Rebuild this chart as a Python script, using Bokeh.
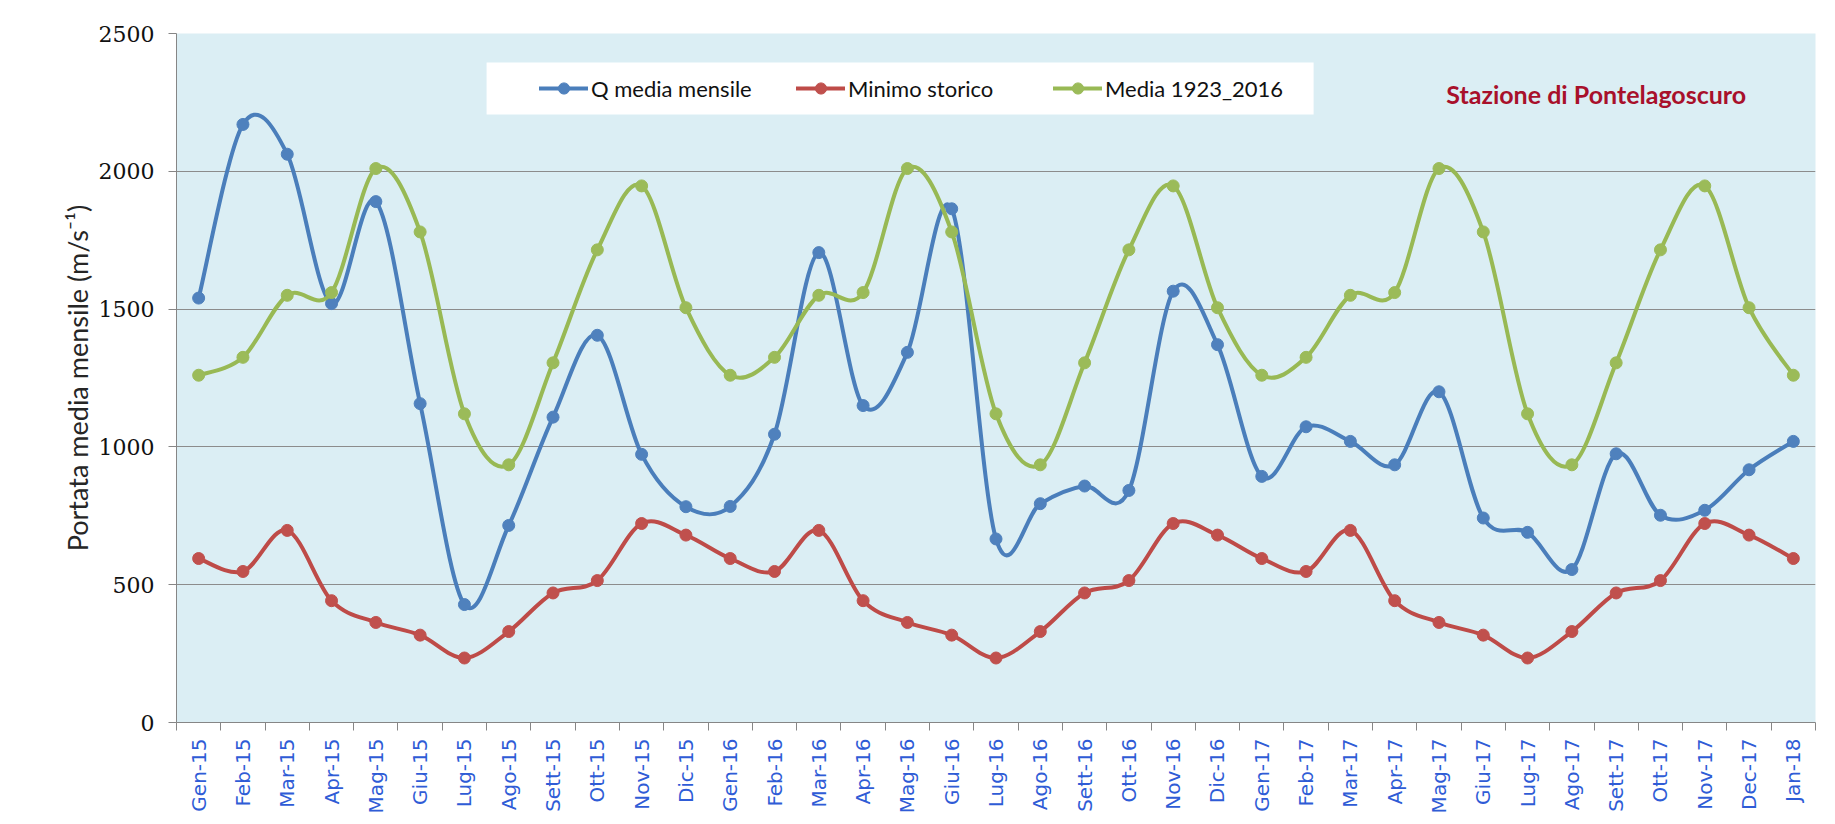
import math
import numpy as np
from bokeh.plotting import figure
from bokeh.models import Range1d, FixedTicker, Legend, LegendItem, Label, BoxAnnotation
from bokeh.embed import file_html
from bokeh.resources import INLINE

# ---------------- data ----------------
months = ["Gen-15", "Feb-15", "Mar-15", "Apr-15", "Mag-15", "Giu-15", "Lug-15", "Ago-15",
          "Sett-15", "Ott-15", "Nov-15", "Dic-15",
          "Gen-16", "Feb-16", "Mar-16", "Apr-16", "Mag-16", "Giu-16", "Lug-16", "Ago-16",
          "Sett-16", "Ott-16", "Nov-16", "Dic-16",
          "Gen-17", "Feb-17", "Mar-17", "Apr-17", "Mag-17", "Giu-17", "Lug-17", "Ago-17",
          "Sett-17", "Ott-17", "Nov-17", "Dec-17", "Jan-18"]

q_media_mensile = [1540, 2170, 2062, 1520, 1890, 1157, 428, 715, 1108, 1405, 973, 783,
                   784, 1046, 1705, 1150, 1343, 1864, 666, 794, 858, 842, 1565, 1371,
                   893, 1073, 1020, 935, 1200, 742, 690, 555, 975, 752, 770, 917, 1020]

minimo_storico = [595, 548, 697, 442, 363, 317, 234, 330, 470, 515, 722, 680,
                  595, 548, 697, 442, 363, 317, 234, 330, 470, 515, 722, 680,
                  595, 548, 697, 442, 363, 317, 234, 330, 470, 515, 722, 680, 595]

media_1923_2016 = [1260, 1325, 1550, 1560, 2010, 1780, 1120, 935, 1305, 1715, 1947, 1505,
                   1260, 1325, 1550, 1560, 2010, 1780, 1120, 935, 1305, 1715, 1947, 1505,
                   1260, 1325, 1550, 1560, 2010, 1780, 1120, 935, 1305, 1715, 1947, 1505, 1260]

y_ticks = [0, 500, 1000, 1500, 2000, 2500]

series = [
    ("Q media mensile", q_media_mensile, "#4a7ebb", "#4f81bd"),
    ("Minimo storico", minimo_storico, "#be4b48", "#c0504d"),
    ("Media 1923_2016", media_1923_2016, "#98b954", "#9bbb59"),
]

n = len(months)
xs = list(range(n))

# ---------------- figure ----------------
p = figure(width=1823, height=816, output_backend="svg", toolbar_location=None,
           x_range=Range1d(-0.5, n - 0.5), y_range=Range1d(0, 2500),
           min_border_left=176, min_border_right=8, min_border_top=33, min_border_bottom=94)
p.background_fill_color = "#dbeef4"
p.border_fill_color = "white"
p.outline_line_color = None

grey = "#868686"

# x axis
p.xaxis.ticker = FixedTicker(ticks=xs, minor_ticks=[k - 0.5 for k in range(n + 1)])
p.xaxis.major_label_overrides = {i: m for i, m in enumerate(months)}
p.xaxis.major_label_orientation = math.pi / 2
p.xaxis.major_tick_out = 0
p.xaxis.major_tick_in = 0
p.xaxis.minor_tick_out = 8
p.xaxis.minor_tick_in = 0
p.xaxis.minor_tick_line_color = grey
p.xaxis.axis_line_color = grey
p.xaxis.major_label_standoff = 8
p.xaxis.major_label_text_font = "DejaVu Sans"
p.xaxis.major_label_text_font_size = "20px"
p.xaxis.major_label_text_color = "#2f5cd6"

# y axis
p.yaxis.ticker = FixedTicker(ticks=y_ticks)
p.yaxis.major_tick_out = 8
p.yaxis.major_tick_in = 0
p.yaxis.major_tick_line_color = grey
p.yaxis.axis_line_color = grey
p.yaxis.major_label_standoff = 14
p.yaxis.major_label_text_font = "DejaVu Serif"
p.yaxis.major_label_text_font_style = "normal"
p.yaxis.major_label_text_font_size = "22px"
p.yaxis.major_label_text_color = "#111111"
p.yaxis.axis_label = "Portata media mensile (m/s\u207b\u00b9)"
p.yaxis.axis_label_text_font = "Lato"
p.yaxis.axis_label_text_font_style = "normal"
p.yaxis.axis_label_text_font_size = "27px"
p.yaxis.axis_label_text_color = "#262626"
p.yaxis.axis_label_standoff = 2

p.xgrid.visible = False
p.ygrid.ticker = FixedTicker(ticks=y_ticks)
p.ygrid.grid_line_color = "#8c8c8c"
p.ygrid.grid_line_width = 1


def smooth_segments(x, y):
    x = np.asarray(x, dtype=float)
    y = np.asarray(y, dtype=float)
    m = len(x)
    x0, y0, x1, y1, cx0, cy0, cx1, cy1 = ([] for _ in range(8))
    for i in range(m - 1):
        ip = i - 1 if i > 0 else i
        iq = i + 2 if i + 2 < m else i + 1
        x0.append(x[i]); y0.append(y[i])
        x1.append(x[i + 1]); y1.append(y[i + 1])
        cx0.append(x[i] + (x[i + 1] - x[ip]) / 6.0)
        cy0.append(y[i] + (y[i + 1] - y[ip]) / 6.0)
        cx1.append(x[i + 1] - (x[iq] - x[i]) / 6.0)
        cy1.append(y[i + 1] - (y[iq] - y[i]) / 6.0)
    return dict(x0=x0, y0=y0, x1=x1, y1=y1, cx0=cx0, cy0=cy0, cx1=cx1, cy1=cy1)


items = []
for name, vals, lcol, mcol in series:
    seg = smooth_segments(xs, vals)
    bz = p.bezier(x0=seg["x0"], y0=seg["y0"], x1=seg["x1"], y1=seg["y1"],
                  cx0=seg["cx0"], cy0=seg["cy0"], cx1=seg["cx1"], cy1=seg["cy1"],
                  line_color=lcol, line_width=4, line_cap="round")
    sc = p.scatter(x=xs, y=vals, marker="circle", size=12,
                   fill_color=mcol, line_color=mcol)
    items.append(LegendItem(label=name, renderers=[bz, sc]))

# white legend panel (decoration) behind the legend entries
legend_box = BoxAnnotation(left=6.5, right=25.17, bottom=2206, top=2395,
                           fill_color="white", fill_alpha=1.0, line_color=None,
                           level="annotation")
p.add_layout(legend_box)

legend = Legend(items=items, orientation="horizontal", location=(363, 620),
                background_fill_alpha=0.0, border_line_color=None,
                spacing=40, glyph_width=49, glyph_height=28, label_standoff=3,
                label_width=165, label_text_font="Lato", label_text_font_size="22px",
                label_text_color="#111111", margin=0)
p.add_layout(legend)

title = Label(x=31.55, y=2280, x_units="data", y_units="data",
              text="Stazione di Pontelagoscuro", text_font="Lato",
              text_font_style="bold", text_font_size="25px", text_color="#a8102b",
              text_align="center", text_baseline="middle")
p.add_layout(title)

open("out.html", "w").write(file_html(p, INLINE))
